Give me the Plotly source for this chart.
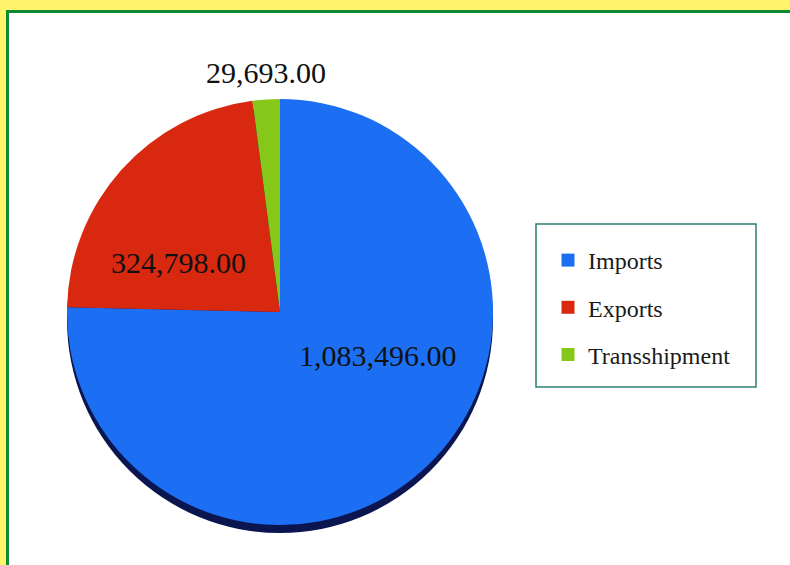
import plotly.graph_objects as go

categories = ["Imports", "Exports", "Transshipment"]
values = [1083496, 324798, 29693]
colors = ["#1c6ff2", "#d8280f", "#86c81a"]

W, H = 790, 565

def px_x(v):
    return v / W

def px_y(v):
    return 1 - v / H

cx, cy, r = 280, 312, 213
shadow_dy = 8

# label anchor points (pixels) as placed in the reference
label_px = [(378, 355), (178, 262), (266, 72)]

fig = go.Figure()

# shadow under the pie
fig.add_trace(go.Pie(
    values=[sum(values)], labels=["shadow"], sort=False,
    marker=dict(colors=["#0b1650"], line=dict(width=0)),
    textinfo="none", hoverinfo="skip", showlegend=False,
    domain=dict(x=[px_x(cx - r), px_x(cx + r)],
                y=[px_y(cy + r + shadow_dy), px_y(cy - r + shadow_dy)]),
))

fig.add_trace(go.Pie(
    labels=categories, values=values, sort=False, direction="clockwise",
    rotation=0,
    marker=dict(colors=colors, line=dict(width=0)),
    textinfo="none",
    showlegend=False,
    domain=dict(x=[px_x(cx - r), px_x(cx + r)],
                y=[px_y(cy + r), px_y(cy - r)]),
))

# legend entries
for name, col in zip(categories, colors):
    fig.add_trace(go.Scatter(
        x=[None], y=[None], mode="markers", name=name, legendgroup=name,
        marker=dict(symbol="square", size=13, color=col),
    ))

annotations = [
    dict(x=px_x(lx), y=px_y(ly), xref="paper", yref="paper",
         text=f"{v:,.2f}", showarrow=False, xanchor="center", yanchor="middle",
         font=dict(family="Liberation Serif", size=30, color="#111111"))
    for (lx, ly), v in zip(label_px, values)
]

fig.update_layout(
    width=W, height=H,
    margin=dict(l=0, r=0, t=0, b=0),
    paper_bgcolor="#fff46c",
    plot_bgcolor="rgba(0,0,0,0)",
    xaxis=dict(visible=False), yaxis=dict(visible=False),
    showlegend=True,
    legend=dict(
        x=px_x(548), y=px_y(238), xanchor="left", yanchor="top",
        bgcolor="rgba(0,0,0,0)", borderwidth=0,
        font=dict(family="Liberation Serif", size=24, color="#1a1a1a"),
        traceorder="grouped", tracegroupgap=13,
    ),
    annotations=annotations,
    shapes=[
        dict(type="rect", xref="paper", yref="paper", layer="below",
             x0=px_x(7.5), x1=px_x(800), y0=px_y(11.5), y1=px_y(580),
             fillcolor="white", line=dict(color="#0e8a33", width=3)),
        dict(type="rect", xref="paper", yref="paper", layer="below",
             x0=px_x(536), x1=px_x(756), y0=px_y(224), y1=px_y(387),
             fillcolor="white", line=dict(color="#2d8073", width=1.5)),
    ],
)

fig.write_html("out.html", config={"displayModeBar": False},
               post_script="document.body.style.margin='0';")
